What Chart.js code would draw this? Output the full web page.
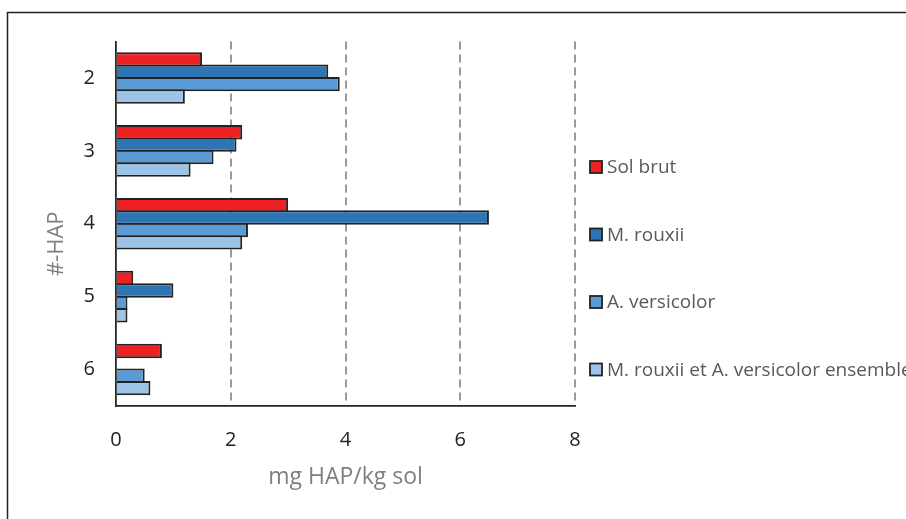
<!DOCTYPE html>
<html>
<head>
<meta charset="utf-8">
<script src="https://cdn.jsdelivr.net/npm/chart.js@4"></script>
<style>
  html, body { margin: 0; padding: 0; background: #fff; overflow: hidden; }
  #wrap { position: absolute; left: 0; top: 0; width: 906px; height: 519px; }
</style>
</head>
<body>
<div id="wrap"><canvas id="c"></canvas></div>
<script>
// ---- data ----
const categories = ['2', '3', '4', '5', '6'];
const seriesNames = ['Sol brut', 'M. rouxii', 'A. versicolor', 'M. rouxii et A. versicolor ensemble'];
const solBrut = [1.5, 2.2, 3.0, 0.3, 0.8];
const mRouxii = [3.7, 2.1, 6.5, 1.0, 0];
const aVersicolor = [3.9, 1.7, 2.3, 0.2, 0.5];
const ensemble = [1.2, 1.3, 2.2, 0.2, 0.6];
const xTicks = [0, 2, 4, 6, 8];
const xTitle = 'mg HAP/kg sol';
const yTitle = '#-HAP';

// ---- styles ----
const colors = ['#ED2024', '#2E75B6', '#5B9BD5', '#9DC3E6'];
const FONT = "'Open Sans', 'DejaVu Sans', sans-serif";

const framePlugin = {
  id: 'frame',
  beforeDraw(chart) {
    const ctx = chart.ctx;
    ctx.save();
    ctx.strokeStyle = '#222';
    ctx.lineWidth = 1.5;
    ctx.strokeRect(7.5, 12.5, 1200, 1200);
    ctx.restore();
  }
};

const legendPlugin = {
  id: 'customLegend',
  afterDraw(chart) {
    const ctx = chart.ctx;
    const x0 = chart.chartArea.right + 15;
    const yStart = 167;
    const step = 67.5;
    ctx.save();
    chart.data.datasets.forEach((ds, i) => {
      const cy = yStart + i * step;
      ctx.fillStyle = ds.backgroundColor;
      ctx.fillRect(x0, cy - 6, 12, 12);
      ctx.strokeStyle = '#222';
      ctx.lineWidth = 1.8;
      ctx.strokeRect(x0, cy - 6, 12, 12);
      ctx.fillStyle = '#595959';
      ctx.font = '19px ' + FONT;
      ctx.textBaseline = 'middle';
      ctx.textAlign = 'left';
      ctx.fillText(ds.label, x0 + 17, cy + 1);
    });
    ctx.restore();
  }
};

const seriesData = [solBrut, mRouxii, aVersicolor, ensemble];

new Chart(document.getElementById('c'), {
  type: 'bar',
  data: {
    labels: categories,
    datasets: seriesNames.map((name, i) => ({
      label: name,
      data: seriesData[i],
      backgroundColor: colors[i],
      borderColor: '#222',
      borderWidth: 2,
      categoryPercentage: 0.68,
      barPercentage: 1.16
    }))
  },
  options: {
    indexAxis: 'y',
    responsive: true,
    maintainAspectRatio: false,
    animation: false,
    devicePixelRatio: 1,
    layout: { padding: { top: 41.5, right: 331, bottom: 0, left: 0 } },
    plugins: { legend: { display: false }, tooltip: { enabled: false } },
    scales: {
      x: {
        min: 0, max: 8,
        afterBuildTicks(scale) { scale.ticks = xTicks.map(v => ({ value: v })); },
        afterFit(scale) { scale.height = 113; },
        ticks: { color: '#222', font: { family: FONT, size: 20 }, padding: 22 },
        grid: {
          drawTicks: false,
          lineWidth: 2,
          color: (c) => (c.tick && c.tick.value === 0) ? 'rgba(0,0,0,0)' : '#9a9a9a'
        },
        border: { display: true, color: '#262626', width: 1.8, dash: [8, 5] },
        title: {
          display: true, text: xTitle, color: '#7f7f7f',
          font: { family: FONT, size: 23 },
          padding: { top: 0, bottom: 28 }
        }
      },
      y: {
        afterFit(scale) { scale.width = 116; },
        ticks: { color: '#222', font: { family: FONT, size: 20 }, padding: 21 },
        grid: { display: false, drawTicks: false },
        border: { display: true, color: '#262626', width: 1.8 },
        title: {
          display: true, text: yTitle + '       ', color: '#7f7f7f',
          font: { family: FONT, size: 22 },
          padding: { top: 44, bottom: 0 }
        }
      }
    }
  },
  plugins: [framePlugin, legendPlugin]
});
</script>
</body>
</html>
